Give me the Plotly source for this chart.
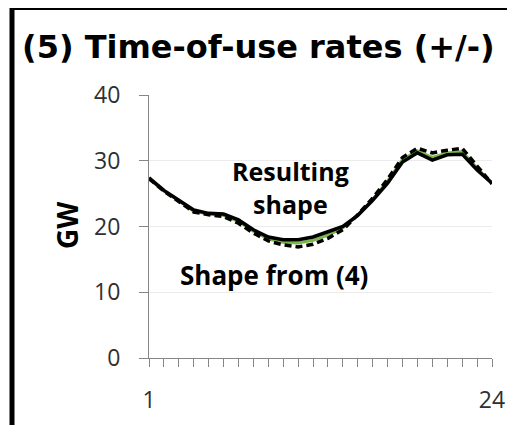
import plotly.graph_objects as go

hours = list(range(1, 25))
resulting = [27.4, 25.5, 24.0, 22.5, 22.0, 21.9, 21.0, 19.5, 18.4, 18.0, 18.0, 18.4,
             19.2, 20.0, 21.7, 24.0, 26.6, 29.8, 31.2, 30.1, 30.9, 31.0, 28.6, 26.6]
green_shape = [27.2, 25.4, 23.9, 22.3, 21.9, 21.7, 20.8, 19.3, 18.1, 17.6, 17.5, 17.9,
               18.7, 19.8, 21.7, 24.1, 26.9, 30.2, 31.5, 30.5, 31.2, 31.4, 28.9, 26.5]
shape_from_4 = [27.3, 25.4, 23.8, 22.2, 21.8, 21.5, 20.5, 19.0, 17.8, 17.2, 16.9, 17.3,
                18.2, 19.5, 21.8, 24.3, 27.2, 30.5, 31.9, 31.2, 31.6, 31.9, 29.2, 26.5]
x_ticktext = ["1"] + [""] * 22 + ["24"]
y_ticks = [0, 10, 20, 30, 40]

fig = go.Figure()
fig.add_trace(go.Scatter(x=hours, y=green_shape, mode="lines",
                         line=dict(color="#7ab648", width=3), hoverinfo="skip"))
fig.add_trace(go.Scatter(x=hours, y=shape_from_4, mode="lines",
                         line=dict(color="black", width=3.5, dash="7px,4px"), hoverinfo="skip"))
fig.add_trace(go.Scatter(x=hours, y=resulting, mode="lines",
                         line=dict(color="black", width=3.5), hoverinfo="skip"))

# page body has an 8px margin: the figure starts at (8, 8) in the window
OFF = 8
W, H = 515 - OFF, 425 - OFF
L, R, T, B = 149 - OFF, 23, 95 - OFF, 67
pw, ph = W - L - R, H - T - B

def px_x(p):
    return (p - OFF - L) / pw

def px_y(p):
    return (H - B - (p - OFF)) / ph

fig.update_layout(
    width=W, height=H,
    margin=dict(l=L, r=R, t=T, b=B, autoexpand=False),
    paper_bgcolor="white", plot_bgcolor="white",
    showlegend=False,
    font=dict(family="Open Sans, sans-serif", color="#404040"),
    xaxis=dict(range=[1, 24], tickvals=hours, ticktext=x_ticktext,
               ticks="outside", ticklen=8, tickcolor="#868686", tickwidth=1,
               showline=True, linecolor="#868686", linewidth=1,
               showgrid=False, zeroline=False,
               tickfont=dict(size=23, color="#303030"), ticklabelstandoff=13),
    yaxis=dict(range=[0, 40], tickvals=y_ticks,
               ticks="outside", ticklen=9, tickcolor="#868686", tickwidth=1,
               showline=True, linecolor="#868686", linewidth=1,
               showgrid=True, gridcolor="#ebebeb", gridwidth=1, zeroline=False,
               tickfont=dict(size=23, color="#303030"), ticklabelstandoff=14),
    shapes=[dict(type="rect", xref="paper", yref="paper",
                 x0=px_x(12), x1=px_x(540), y0=px_y(7.5), y1=px_y(450),
                 line=dict(color="black", width=5), fillcolor="rgba(0,0,0,0)")],
    annotations=[
        dict(text="<b>(5) Time-of-use rates (+/-)</b>", xref="paper", yref="paper",
             x=px_x(20), y=px_y(47), xanchor="left", yanchor="middle", showarrow=False,
             font=dict(family="DejaVu Sans, sans-serif", size=32, color="black")),
        dict(text="<b>GW</b>", xref="paper", yref="paper", x=px_x(67), y=px_y(225),
             textangle=-90, showarrow=False, xanchor="center", yanchor="middle",
             font=dict(size=28, color="black")),
        dict(text="<b>Resulting<br>shape</b>", xref="paper", yref="paper",
             x=px_x(290), y=px_y(187), showarrow=False, xanchor="center", yanchor="middle",
             font=dict(size=25, color="black")),
        dict(text="<b>Shape from (4)</b>", xref="paper", yref="paper",
             x=px_x(274), y=px_y(275), showarrow=False, xanchor="center", yanchor="middle",
             font=dict(size=26, color="black")),
    ],
)

fig.write_html("out.html")
